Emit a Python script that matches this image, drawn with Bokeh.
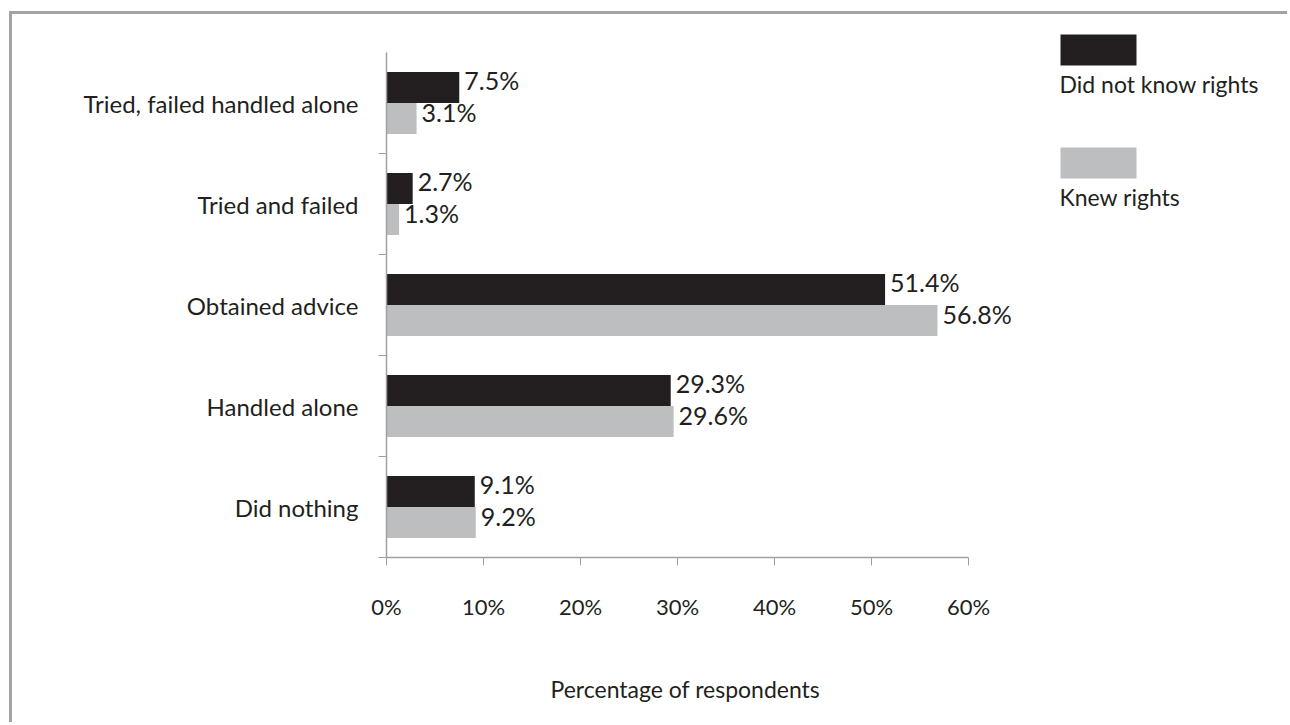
from bokeh.plotting import figure
from bokeh.models import (ColumnDataSource, FixedTicker, PrintfTickFormatter,
                          Range1d, Title, LinearAxis)
from bokeh.core.properties import value
from bokeh.embed import file_html
from bokeh.resources import INLINE

# ---- data ----
categories = ["Did nothing", "Handled alone", "Obtained advice",
              "Tried and failed", "Tried, failed handled alone"]
did_not_know = [9.1, 29.3, 51.4, 2.7, 7.5]
knew = [9.2, 29.6, 56.8, 1.3, 3.1]
series_names = ["Did not know rights", "Knew rights"]
x_ticks = [0, 10, 20, 30, 40, 50, 60]
x_title = "Percentage of respondents"

FONT = "Lato"
TXT = "#231f20"
DARK = "#231f20"
LIGHT = "#bcbec0"
AXIS = "#a0a0a0"

n = len(categories)
centers = [i + 0.5 for i in range(n)]
bar_h = 0.307

# pixel geometry of the frame (canvas starts at x=12, y=14 in the page)
X0_PAGE, Y0_PAGE = 12, 14
AX_LEFT, AX_RIGHT, AX_TOP, AX_BOTTOM = 386, 968, 52, 557
px_x = (AX_RIGHT - AX_LEFT) / 60.0
px_y = (AX_BOTTOM - AX_TOP) / n
x_end = (1290 - AX_LEFT) / px_x
y_end = n + (AX_TOP - Y0_PAGE) / px_y

src_a = ColumnDataSource(dict(y=[c + bar_h / 2 for c in centers], v=did_not_know,
                              lab=[f"{v:.1f}%" for v in did_not_know]))
src_b = ColumnDataSource(dict(y=[c - bar_h / 2 for c in centers], v=knew,
                              lab=[f"{v:.1f}%" for v in knew]))

p = figure(width=1278, height=711, output_backend="svg", toolbar_location=None,
           x_range=Range1d(0, x_end), y_range=Range1d(0, y_end),
           min_border_left=AX_LEFT - X0_PAGE, min_border_right=0,
           min_border_top=0, min_border_bottom=725 - AX_BOTTOM)
p.styles = {"margin-left": "9px", "margin-top": "11px",
            "border-top": "3px solid #a3a3a3", "border-left": "3px solid #a3a3a3"}
p.outline_line_color = None
p.xgrid.visible = False
p.ygrid.visible = False
p.background_fill_color = "white"
p.border_fill_color = "white"

p.hbar(y="y", left=0, right="v", height=bar_h, source=src_a, color=DARK,
       line_color=None)
p.hbar(y="y", left=0, right="v", height=bar_h, source=src_b, color=LIGHT,
       line_color=None)

for src in (src_a, src_b):
    p.text(x="v", y="y", text="lab", source=src, x_offset=5, y_offset=-7,
           text_baseline="alphabetic", text_align="left",
           text_font=value(FONT), text_font_size="25px", text_color=TXT)

# x axis
xa = p.xaxis[0]
xa.bounds = (0, 60)
xa.ticker = FixedTicker(ticks=x_ticks)
xa.formatter = PrintfTickFormatter(format="%d%%")
xa.axis_line_color = AXIS
xa.axis_line_width = 1.5
xa.major_tick_line_color = AXIS
xa.major_tick_out = 8
xa.major_tick_in = 0
xa.minor_tick_line_color = None
xa.major_label_standoff = 27
xa.major_label_text_font = FONT
xa.major_label_text_font_size = "22px"
xa.major_label_text_color = TXT

# invisible spacer between the tick labels and the axis title
spacer = LinearAxis(ticker=FixedTicker(ticks=[0]), axis_line_color=None,
                    major_tick_line_color=None, minor_tick_line_color=None,
                    major_tick_out=45, major_tick_in=0, minor_tick_out=0,
                    minor_tick_in=0, major_label_standoff=0,
                    major_label_overrides={0: ""},
                    major_label_text_alpha=0)
p.add_layout(spacer, "below")

# x axis title, centred under the 0-60 % axis
p.add_layout(Title(text=x_title, align="left", offset=164, standoff=10,
                   text_font=FONT, text_font_size="23px",
                   text_font_style="normal", text_color=TXT), "below")

# y axis
ya = p.yaxis[0]
ya.bounds = (0, n)
ya.ticker = FixedTicker(ticks=centers, minor_ticks=list(range(n)))
ya.major_label_overrides = {c: cat for c, cat in zip(centers, categories)}
ya.axis_line_color = AXIS
ya.axis_line_width = 1.5
ya.major_tick_line_color = None
ya.major_tick_out = 0
ya.major_tick_in = 0
ya.minor_tick_line_color = AXIS
ya.minor_tick_out = 8
ya.minor_tick_in = 0
ya.major_label_standoff = 20
ya.major_label_text_font = FONT
ya.major_label_text_font_size = "24px"
ya.major_label_text_color = TXT

# legend (right of the axes, inside the extended frame)
def dx(px):
    return (px - AX_LEFT) / px_x
def dy(py):
    return n - (py - AX_TOP) / px_y

leg_tops = [34, 147]
leg_cols = [DARK, LIGHT]
p.quad(left=[dx(1060)] * 2, right=[dx(1136)] * 2,
       top=[dy(t) for t in leg_tops], bottom=[dy(t + 31) for t in leg_tops],
       fill_color=leg_cols, line_color=None)
p.text(x=[dx(1059)] * 2, y=[dy(t + 49) for t in leg_tops], text=series_names,
       text_font=value(FONT), text_font_size="23px", text_color=TXT,
       text_baseline="middle", text_align="left")

open("out.html", "w").write(file_html(p, INLINE))
